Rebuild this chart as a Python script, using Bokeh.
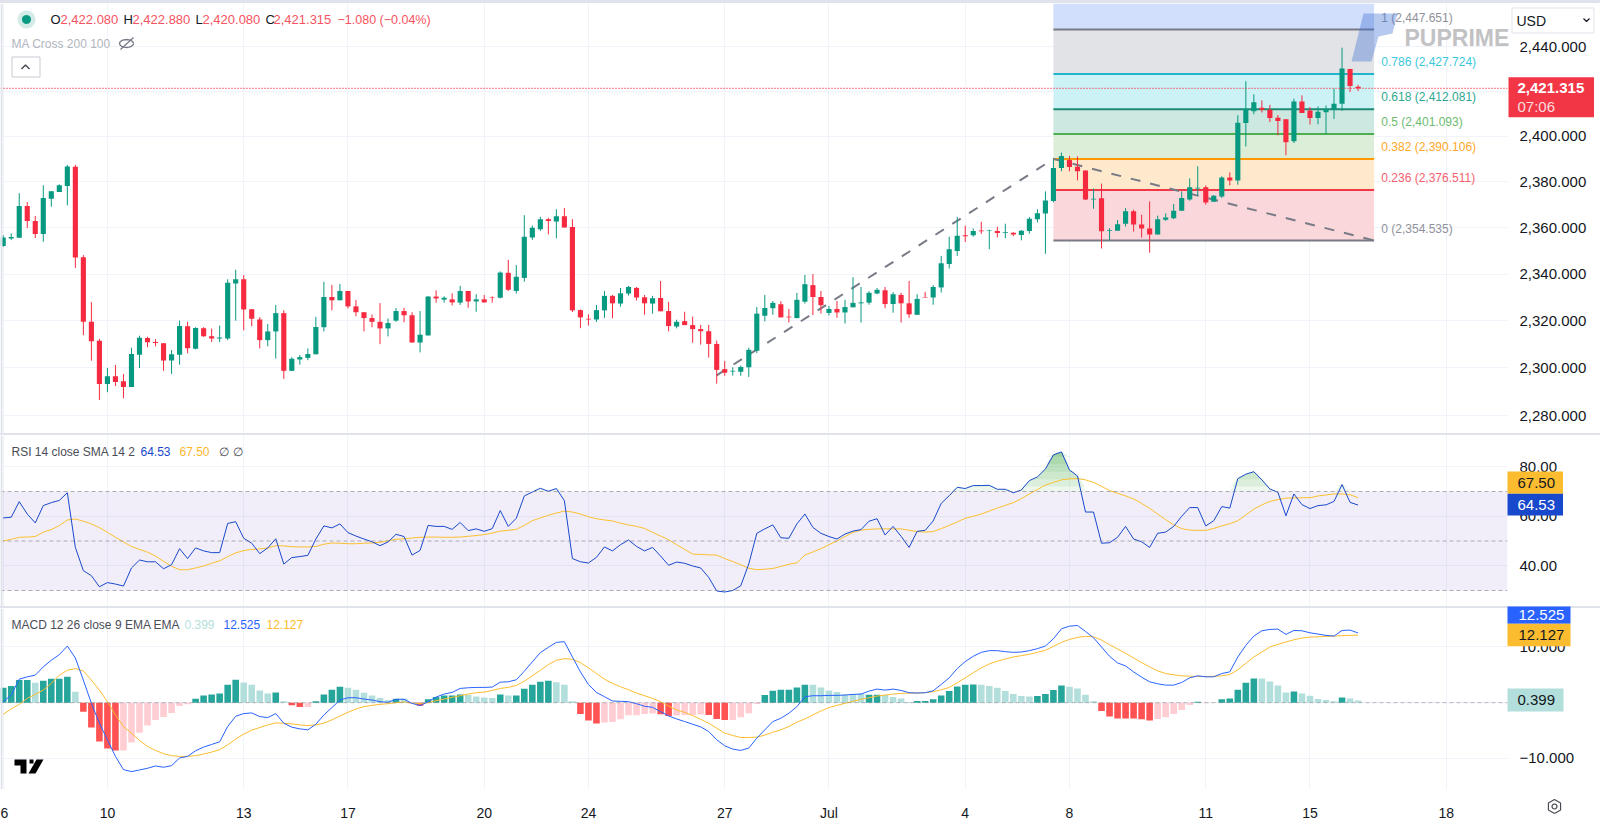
import math
import numpy as np
from bokeh.plotting import figure
from bokeh.layouts import column
from bokeh.models import (ColumnDataSource, FixedTicker, NumeralTickFormatter, Label, Span, Div,
                          BoxAnnotation, Range1d)
from bokeh.core.properties import value
from bokeh.embed import file_html
from bokeh.resources import INLINE

opens = [2352.2,2355.4,2355.7,2369.5,2363,2357.4,2372.7,2375.6,2378.2,2386.7,
2347.3,2319.6,2311.5,2293.2,2296.5,2294.4,2292,2305.6,2312.7,2311,
2310.5,2303.2,2305.6,2317.7,2308.2,2316.9,2313.5,2312.5,2312.5,2336,
2337.8,2325,2320.6,2311.8,2315.5,2323.3,2298.8,2303.6,2304.3,2305.8,
2317.3,2330.2,2328.8,2332.8,2326.2,2323.7,2321.2,2319.6,2316.8,2320.1,
2324.2,2322.4,2310.8,2313.8,2330.4,2329.1,2329.2,2327.8,2332.8,2328.3,
2329.2,2330.2,2329.9,2340.6,2332.8,2338.4,2355.8,2359.4,2363.8,2362.8,
2365.1,2360.4,2324.6,2320.9,2320.6,2324.5,2330.7,2327.4,2331.7,2334.1,
2330.1,2327.4,2329.8,2324.2,2317.6,2319.9,2318.2,2316.5,2315.6,2310.2,
2299.5,2298.5,2298.4,2300.3,2307.3,2322.2,2325.4,2327.1,2321.8,2321.2,
2328.2,2335.3,2330.2,2323.4,2325.1,2323.6,2325.8,2327.5,2327.8,2331.7,
2333.1,2327.2,2331.1,2327.5,2322.6,2330.2,2330,2334.3,2344.4,2350,
2356.8,2356.8,2358.9,2358.7,2358.7,2357.8,2357.9,2356.9,2358.7,2363.8,
2366.3,2371.7,2386.1,2389.6,2386.7,2385,2372.4,2372.9,2358.7,2358.8,
2361.8,2367.2,2361.5,2359.7,2357.1,2363.5,2364.2,2367.4,2372.3,2377.2,
2377.7,2371.4,2373.7,2382,2380.7,2406,2411.2,2412.7,2411.8,2408.3,
2407.6,2397.9,2415.5,2411.5,2408.2,2410.7,2411.8,2414.5,2430,2422.08]
closes = [2355.8,2356.1,2369.5,2363,2357.4,2373,2376,2378.6,2386.8,2347.2,
2319.6,2311.3,2293.2,2296.5,2294.1,2292,2305.9,2312.8,2310.9,2310.6,
2303.2,2305.8,2317.8,2308.4,2317,2313.5,2312.5,2312.9,2336.3,2337.8,
2324.9,2320.9,2311.8,2315.5,2323.3,2298.8,2303.9,2304.6,2305.9,2317.4,
2330.2,2328.8,2332.8,2326.2,2323.7,2321.2,2319.6,2316.8,2319.1,2324.2,
2322.4,2310.8,2314.1,2330.4,2329.6,2329.9,2327.9,2332.8,2328.3,2329.2,
2327.9,2330,2340.7,2333.3,2338.9,2356.2,2360.1,2363.8,2363,2365.1,
2360.2,2324.5,2321.5,2320.6,2324.6,2330.7,2327.5,2331.8,2334.5,2330,
2327.5,2329.7,2324.1,2317.8,2319.6,2318.2,2316.5,2315.6,2310.2,2299.2,
2298,2298.8,2300.4,2307.7,2323.1,2325.5,2327.7,2321.5,2321.5,2329,
2335.7,2330.2,2326.7,2325.1,2323.6,2325.9,2327.7,2327.9,2332,2333.3,
2327.2,2331.4,2327.5,2322.8,2329.4,2330,2334.5,2344.7,2350.8,2356.6,
2356.4,2358.7,2358.5,2358.9,2357.8,2358.1,2357.1,2358.8,2364,2366.4,
2371.9,2386.1,2391.4,2386.6,2384.7,2372.4,2372.7,2358.5,2359,2361.6,
2367.2,2361.5,2359.7,2357.1,2363.7,2364.5,2367.4,2373,2377.7,2377.5,
2371,2374,2382,2380.7,2406.1,2412.2,2415.1,2411.8,2408.2,2406.8,
2397.4,2415.5,2410.4,2408.2,2410.9,2412.2,2414.5,2430.2,2422.4,2421.315]
highs = [2356.8,2357.6,2375.1,2371.2,2365.2,2378.6,2376,2379,2387.5,2387.5,
2348.2,2328,2312.4,2300,2301.3,2297.4,2308.6,2313.7,2313.2,2312.2,
2310.5,2307.6,2320.1,2319.6,2317.3,2317.3,2316.7,2318,2337.8,2341.9,
2339.6,2325,2321.6,2318.7,2326.8,2324.5,2304.6,2305.5,2308.3,2321.7,
2336.7,2335.4,2335.8,2332.8,2328.9,2323.7,2322.7,2327.6,2321,2325.5,
2325.6,2323.7,2324.2,2330.6,2333.1,2330.5,2331.8,2335,2332.8,2331.4,
2331.1,2330.5,2341.2,2346.2,2343.9,2365.5,2361,2364.8,2364.4,2368.1,
2368.6,2363.8,2324.9,2322.8,2326.8,2332.8,2331.1,2334.1,2335,2334.5,
2331.1,2330.7,2337.1,2328.1,2320.5,2323.9,2321.8,2318.3,2318.3,2311.6,
2303,2300.3,2301,2308.6,2325.9,2331.1,2328.5,2328.4,2325.1,2332,
2339.7,2340,2332.8,2326.4,2328.5,2329,2338.7,2334.5,2332.7,2334.1,
2334.5,2332.3,2332,2337.1,2331.4,2332.4,2335.3,2347.9,2356.2,2364.7,
2361,2359.7,2362.7,2359.2,2360.5,2361.8,2358.1,2359.1,2364.7,2368.1,
2375.9,2389.9,2392.9,2391.4,2391.2,2385,2377.1,2379.3,2359.9,2363.4,
2368.6,2367.9,2365.7,2371.5,2365.3,2366.3,2370.4,2375.9,2381.6,2386.9,
2378.5,2374.3,2382.5,2384.2,2409.4,2424.5,2418.7,2416,2414,2409.5,
2407.6,2416.7,2418.2,2413,2413.3,2413.7,2421.2,2439.5,2430,2422.88]
lows = [2351.8,2354.7,2355.7,2359.9,2355.6,2354,2369.2,2375.6,2369.8,2342.7,
2313.9,2303.1,2286.5,2289.8,2292.4,2287.2,2292,2300,2308.8,2309.2,
2298.8,2297.5,2301.4,2306.2,2307.9,2313.2,2311,2311,2311.8,2320.1,
2316,2317.7,2308.3,2309.2,2304,2295.4,2298.8,2301.4,2303.3,2305.8,
2315.5,2324.5,2328.8,2325.3,2322,2315.5,2317.3,2310.1,2313.4,2319.6,
2319.4,2310.8,2306.6,2313.8,2327.8,2327.8,2326.6,2326.8,2325.6,2323.9,
2327.8,2327.8,2329.6,2332.8,2331.7,2336.8,2354.8,2358.7,2357.2,2355.5,
2360.2,2323.8,2316.9,2318,2319.5,2321.3,2321.1,2326.1,2330.8,2328.7,
2322.6,2323.1,2324.1,2315.5,2316.8,2318.2,2310.7,2309.9,2304.4,2293.4,
2296.7,2296.8,2296.7,2296.2,2306.3,2319.8,2322.6,2321.5,2319.3,2321.1,
2327.4,2322.5,2323.1,2322.3,2321.3,2318.9,2325.8,2319.3,2326.9,2331.4,
2325.4,2323.5,2319.3,2321.3,2322.5,2330,2326.9,2332.1,2342.4,2347.9,
2353.9,2356.2,2357.4,2350.8,2355.9,2355.5,2356.4,2354.6,2357.5,2362.4,
2348.8,2371.1,2384.7,2384.7,2380.7,2372.1,2368.3,2351.1,2354.6,2358.8,
2360.6,2358.4,2355.8,2349.3,2357.1,2363.1,2363.8,2367.4,2371.8,2373.9,
2370.1,2371.4,2373,2378.5,2378.8,2395.6,2409.8,2410.6,2406.4,2400.5,
2391.7,2397.1,2410.4,2405.3,2405.4,2401.1,2407.7,2411.3,2419.7,2420.08]

rsi = [59.3,59.6,65.9,60.9,57.3,64.3,65.5,66.4,69.5,47.4,
38,36,31.5,33.2,32.6,31.8,39.1,42.3,41.6,41.6,
38.8,40.4,46.9,42.9,47.2,46,45.3,45.3,57.1,57.8,
51.1,49.1,44.9,47.2,50.9,40.7,43.3,43.7,44.2,50.8,
56.1,55.3,56.9,53.4,52,50.8,49.7,48.1,49.6,52.7,
51.8,44.3,46.2,56.3,55.9,55.9,54.7,57.5,54.2,54.9,
53.9,55,62.3,55.9,59.2,68.2,69.8,71.3,70.1,71.2,
66.3,42.9,41.6,41.1,43.4,47.6,46,48.5,50.4,47.8,
46,47.4,43.9,40.2,41.5,41,39.9,39.1,35.3,29.8,
29.4,30,31.9,40.7,53.1,54.9,56.5,51.3,51.1,56.9,
60.9,55.5,53.1,51.8,50.8,52.8,54,54.6,58,59,
52.4,55.9,51.9,47.4,53.9,54.3,58.1,65.2,68.3,71.7,
71.2,72.4,72.4,72.5,70.9,70.9,69.5,70.6,74.4,75.9,
79.1,84.8,86,78.7,76.3,61.7,61.7,49.1,49.3,51.5,
55.9,50.8,49.7,47.4,53.1,53.6,55.9,60,63.5,63.5,
56.1,58.2,63.9,63.3,75.2,77,78,74.7,71,69.7,
60.2,69,64.7,63.1,64.3,64.6,66,72.8,65.6,64.53]
rsi_ma = [50,50.7,51.5,51.6,51.8,53.6,54.6,56.2,58.5,58.9,
58,56.9,55.4,53.5,51.5,49.6,47.8,46.6,45.5,43.9,
41.8,39.8,38.4,38.4,39.1,39.9,41,42,43.7,45.2,
46.1,46.6,46.8,47.2,48.1,48,47.7,47.6,47.6,47.8,
48.7,49.2,49.1,48.9,48.9,49.1,49.2,49.5,50.1,50.7,
50.9,51.2,51.5,51.6,51.6,51.5,51.5,51.6,51.9,52.2,
52.6,53.2,54,54.3,54.7,56.3,58.2,59.3,60.4,61.3,
62.1,61.7,60.9,59.8,59,58.5,58.1,57.2,56.5,55.9,
55.1,53.5,52,50.5,48.5,46.6,44.7,44.6,44.4,44.3,
42.9,41.7,40.4,39,38.4,38.6,38.9,39.7,40.6,41.2,
44.3,45.6,46.9,48.5,50,51.8,53.5,54.4,54.7,54.9,
54.9,54.9,54.9,54.3,53.8,53.6,53.8,55,56.3,57.7,
59.2,60,60.9,62.1,63.3,64.4,65.5,67.1,69,70.8,
72.6,73.7,74.7,75.1,75.2,74.7,73.7,72.1,70.4,69.3,
68.2,67,65.2,63.2,60.9,58.6,56.5,55,54.4,54.3,
54.3,55.1,56.1,57,58.2,60.5,62.9,64.6,66,66.7,
67.3,67.4,67.5,67.5,68.2,68.6,69,69,68.7,67.5]

macd = [0.18,1.37,4.22,4.64,4.94,6.43,7.62,8.63,10.17,8.03,
4.05,-0.12,-3.69,-6.66,-9.64,-12.02,-12.38,-12.08,-11.78,-11.36,
-11.6,-11.3,-9.94,-9.64,-8.63,-7.97,-7.5,-7.02,-4.28,-2.44,
-1.96,-1.84,-2.5,-2.68,-1.96,-3.69,-4.4,-4.7,-4.88,-3.87,
-2.2,-0.89,0.48,0.89,0.89,0.65,0.48,0.18,0.06,0.6,
0.6,-0.12,-0.54,0.18,1.01,1.55,1.84,2.56,2.68,2.74,
2.74,2.8,3.69,3.75,4.11,5.65,7.32,8.98,9.94,10.83,
10.95,8.21,5.53,3.27,1.84,1.07,0.3,0.24,0.18,-0.18,
-0.65,-0.83,-1.61,-2.38,-2.92,-3.39,-3.87,-4.34,-5.18,-6.66,
-7.74,-8.33,-8.57,-8.15,-6.37,-4.88,-3.39,-2.8,-1.9,-0.71,
1.07,1.25,1.25,1.31,1.31,1.37,1.49,1.55,2.08,2.44,
2.26,2.44,2.2,1.79,1.73,1.79,2.14,3.27,4.46,6.13,
7.38,8.33,9.04,9.34,9.34,9.16,9.04,9.1,9.34,9.7,
10.17,11.48,13.27,13.74,13.86,12.79,11.66,10,8.33,7.14,
6.6,5.53,4.58,3.75,3.39,3.15,3.15,3.63,4.46,4.82,
4.64,4.64,5.24,5.53,8.21,10.29,11.96,12.91,13.15,13.21,
12.26,12.97,12.91,12.55,12.32,12.08,11.96,12.97,13.03,12.525]
signal = [-2.08,-1.13,-0.3,0.77,1.49,2.26,3.45,4.94,5.83,6.13,
5.71,4.05,2.26,0.18,-2.2,-4.28,-5.47,-6.78,-7.85,-8.57,
-9.16,-9.52,-9.64,-9.64,-9.52,-9.22,-8.87,-8.45,-7.56,-6.54,
-5.65,-4.94,-4.46,-3.99,-3.63,-3.69,-3.81,-3.99,-4.11,-3.99,
-3.69,-3.09,-2.38,-1.73,-1.13,-0.71,-0.48,-0.3,-0.18,0,
0.12,-0.06,-0.18,0,0.36,0.65,0.95,1.25,1.55,1.79,
1.9,2.2,2.56,2.74,3.09,3.87,4.82,5.83,6.84,7.62,
7.91,7.79,7.2,6.25,5.24,4.22,3.45,2.86,2.32,1.73,
1.25,0.77,0.18,-0.6,-1.31,-1.73,-2.32,-2.98,-3.69,-4.58,
-5.47,-5.89,-6.25,-6.25,-6.19,-5.83,-5.3,-4.88,-4.28,-3.51,
-2.92,-2.2,-1.49,-0.89,-0.48,-0.12,0.24,0.6,0.89,1.19,
1.37,1.55,1.67,1.73,1.73,1.79,1.96,2.32,2.74,3.57,
4.46,5.36,6.25,6.96,7.44,7.85,8.21,8.45,8.69,9.04,
9.4,10.11,10.83,11.36,11.72,11.9,11.84,11.25,10.41,9.64,
8.87,8.03,7.2,6.43,5.71,5.24,5,4.82,4.76,4.7,
4.7,4.76,4.82,5.06,5.89,7.08,8.21,9.1,10,10.47,
10.89,11.3,11.6,11.78,11.84,11.9,11.96,12.03,12.08,12.127]
hist = [2.68,2.98,4.05,4.05,3.57,3.93,4.29,4.29,4.64,1.96,
-1.61,-4.46,-6.96,-8.21,-8.57,-8.57,-7.14,-5.41,-4.11,-3.09,
-2.56,-1.84,-0.6,-0.3,0.71,1.31,1.49,1.67,3.21,4.11,
3.63,3.21,2.2,1.67,1.84,0.24,-0.48,-0.77,-0.77,0.24,
1.49,2.32,2.86,2.68,2.32,1.79,1.31,0.83,0.48,0.71,
0.77,-0.18,-0.54,0.6,1.01,1.31,1.31,1.49,1.37,1.13,
0.95,0.83,1.49,1.31,1.31,2.5,3.21,3.75,3.93,3.69,
3.21,0.24,-2.02,-3.21,-3.75,-3.57,-3.45,-2.98,-2.26,-2.26,
-2.02,-1.96,-2.08,-2.38,-2.32,-2.2,-2.2,-2.14,-2.2,-2.92,
-3.09,-3.09,-2.62,-1.9,-0.24,1.37,2.14,2.32,2.32,2.74,
3.21,3.21,2.74,2.2,1.9,1.49,1.55,1.61,1.43,1.43,
1.37,1.01,0.77,0.12,0.3,0.3,0.6,1.31,2.08,2.92,
3.21,3.27,3.21,2.98,2.68,2.08,1.55,1.19,1.13,1.19,
1.55,2.26,3.1,2.86,2.56,1.43,0.24,-1.49,-2.5,-2.86,
-2.86,-2.86,-2.98,-3.21,-2.92,-2.62,-2.02,-1.31,-0.42,0.18,
-0.12,-0.06,0.6,0.77,2.32,3.57,4.35,4.35,3.81,3.1,
1.85,2.02,1.67,1.25,0.65,0.48,0.24,0.95,0.77,0.399]
hist_tone = ("DDDDLDDDDL" "DDDDDLLLLL" "LLLLDDDDDD" "LLLLDLDDLD" "DDDLLLLLLD"
             "LLDDDDDDLL" "LLDLDDDDDL" "LLDDDLLLLL" "LLDDLLLLDD" "DLLLLDDDDD"
             "DLLLLLLLDD" "LLLLDDDDDD" "DDLLLLLLLD" "DDDLLLLDDD" "DDDDLLLLLD"
             "LLDDDDDLLL" "LDLLLLLDLL")

fib_ratio = ["0", "0.236", "0.382", "0.5", "0.618", "0.786", "1"]
fib_price = [2354.535, 2376.511, 2390.106, 2401.093, 2412.081, 2427.724, 2447.651]
fib_line = ["#787b86", "#f23645", "#ff9800", "#4caf50", "#1f8a75", "#22b4cc", "#787b86"]
fib_text = ["#8f929c", "#f4616e", "#ffa726", "#6dbb70", "#2ea890", "#3cc8dc", "#8f929c"]
fib_fill = ["#fad7da", "#fee9cd", "#ddeed8", "#cde8e1", "#ccf2f5", "#e2e3e6", "#d1defc"]
trend_x = [89, 131, 171]
trend_y = [2296.9, 2390.1, 2354.535]
price_ticks = [2280, 2300, 2320, 2340, 2360, 2380, 2400, 2420, 2440]
rsi_ticks = [40, 60, 80]
macd_ticks = [-10, 0, 10]
day_ticks = [0, 13, 30, 43, 60, 73, 90, 103, 120, 133, 150, 163, 180]
day_names = ["6", "10", "13", "17", "20", "24", "27", "Jul", "4", "8", "11", "15", "18"]

UP, DOWN = "#089981", "#f5293f"
TAG_RED = "#f23645"
FONT = "Liberation Sans"
GRID = "#f0f3fa"
SEP = "#e0e3eb"
FRAME_W = 1507
STEP, X0 = 8.017, 2.7
xr = (-X0 / STEP, (FRAME_W - X0) / STEP)
P1_TOP, P1_H = 3, 430
P2_TOP, P2_H = 435, 171
P3_TOP, P3_H = 608, 182
xs = list(range(len(closes)))


def price_at(y):
    return 2280 * math.exp((415 - y) / 5440)


def make(height, y_range, ticks, bottom=0, **kw):
    p = figure(width=1600, height=height, x_range=xr, y_range=y_range, output_backend="svg",
               toolbar_location=None, y_axis_location="right", min_border_left=0,
               min_border_right=1600 - FRAME_W, min_border_top=0, min_border_bottom=bottom,
               outline_line_color=None, **kw)
    p.yaxis.ticker = FixedTicker(ticks=ticks)
    p.yaxis.axis_line_color = None
    p.yaxis.major_tick_line_color = None
    p.yaxis.minor_tick_line_color = None
    p.yaxis.major_label_text_font = FONT
    p.yaxis.major_label_text_font_size = "15px"
    p.yaxis.major_label_text_color = "#131722"
    p.yaxis.major_label_standoff = 6
    p.xaxis.ticker = FixedTicker(ticks=day_ticks)
    p.xgrid.ticker = FixedTicker(ticks=day_ticks)
    p.xgrid.grid_line_color = GRID
    p.ygrid.grid_line_color = GRID
    p.add_layout(BoxAnnotation(right=xr[0] + 2 / STEP, fill_color=SEP, fill_alpha=1, line_color=None,
                               level="overlay"))
    return p


# ---------- transparent sheet over the whole page, in page pixels, for header, legends and tags
ov = figure(width=1600, height=823, x_range=Range1d(0, 1600), y_range=Range1d(823, 0), output_backend="svg",
            toolbar_location=None, x_axis_location=None, y_axis_location=None, min_border=0,
            outline_line_color=None, background_fill_color=None, border_fill_color=None,
            margin=(-823, 0, 0, 0), frame_align=False)
ov.grid.visible = False


def text(x, y, s, color="#131722", size=13, bold=False, anchor="center_left", **kw):
    lab = Label(x=x, y=y, text=s, text_color=color, text_font=FONT, text_font_size=f"{size}px",
                text_font_style="bold" if bold else "normal", anchor=anchor, **kw)
    ov.add_layout(lab)
    return lab


def poly(pts, color, alpha=1.0):
    ov.patch([a for a, _ in pts], [b for _, b in pts], fill_color=color, fill_alpha=alpha, line_color=None)


def outline(pts, color, width=1.0):
    ov.line([a for a, _ in pts], [b for _, b in pts], line_color=color, line_width=width)


def tag(x0, x1, y0, y1, color):
    ov.quad(left=x0, right=x1, top=y0, bottom=y1, fill_color=color, line_color=None)


# ---------- price pane
p1 = make(P1_H, (price_at(P1_TOP + P1_H), price_at(P1_TOP)), price_ticks, y_axis_type="log")
p1.xaxis.visible = False
p1.yaxis.formatter = NumeralTickFormatter(format="0,0.000")
p1.yaxis.major_label_overrides = {2420: ""}

tops = fib_price[1:] + [price_at(P1_TOP)]
p1.quad(left=trend_x[1], right=trend_x[2], bottom=fib_price, top=tops, fill_color=fib_fill, line_color=None)
p1.segment(x0=[trend_x[1]] * 7, x1=[trend_x[2]] * 7, y0=fib_price, y1=fib_price, line_color=fib_line, line_width=2)
p1.line(trend_x, trend_y, line_color="#787b86", line_width=2, line_dash="10 10")
p1.add_layout(Span(location=closes[-1], dimension="width", line_color=DOWN, line_width=1.4, line_dash="1 2"))

cols = [UP if c >= o else DOWN for o, c in zip(opens, closes)]
src = ColumnDataSource(dict(x=xs, o=opens, c=closes, h=highs, l=lows, col=cols))
p1.segment("x", "h", "x", "l", source=src, line_color="col", line_width=1)
p1.vbar("x", 0.64, "o", "c", source=src, fill_color="col", line_color=None)

fib_names = [f"{r} ({v:,.3f})" for r, v in zip(fib_ratio, fib_price)]
p1.text(x=[171.9] * 7, y=fib_price, text=fib_names, text_color=fib_text, text_font=value(FONT),
        text_font_size="12px", text_baseline="middle", y_offset=-12)

# logo and watermark
poly([(1363, 13), (1397, 13), (1392, 33), (1378, 36), (1371, 61), (1351, 61)], "#3f72d6", 0.38)
text(1404, 37, "PUPRIME", color="#c2c2c4", size=23, bold=True)

# header
poly([(26 + 9 * math.cos(t / 12 * math.pi), 19 + 9 * math.sin(t / 12 * math.pi)) for t in range(24)], "#d3ece7")
poly([(26 + 4.5 * math.cos(t / 12 * math.pi), 19 + 4.5 * math.sin(t / 12 * math.pi)) for t in range(24)], UP)
RED = "#f7525f"
for x, s, c, sz in [(50, "O", "#131722", 13), (60, "2,422.080", RED, 13), (123, "H", "#131722", 13),
                    (132, "2,422.880", RED, 13), (195, "L", "#131722", 13), (202, "2,420.080", RED, 13),
                    (265, "C", "#131722", 13), (273, "2,421.315", RED, 13),
                    (337, "\u22121.080 (\u22120.04%)", RED, 12.5)]:
    text(x, 19, s, color=c, size=sz)
text(11, 43, "MA Cross 200 100", color="#b2b5be", size=12)
outline([(126 + 7 * math.cos(t / 8 * math.pi), 43 + 4 * math.sin(t / 8 * math.pi)) for t in range(17)], "#787b86", 1.3)
outline([(120, 49), (133, 37)], "#787b86", 1.3)
outline([(11.5, 56.5), (39.5, 56.5), (39.5, 76.5), (11.5, 76.5), (11.5, 56.5)], "#c8cad0")
outline([(21, 68.5), (25, 64.5), (29, 68.5)], "#4a4d56", 1.5)

# price tag and currency box
tag(1508, 1593.5, 76.7, 116.7, TAG_RED)
text(1517, 87.5, "2,421.315", color="#ffffff", size=15, bold=True)
text(1517, 106, "07:06", color="#fbdcdf", size=15)
tag(1511.5, 1593.5, 7.5, 32.5, "#ffffff")
outline([(1511.5, 7.5), (1593.5, 7.5), (1593.5, 32.5), (1511.5, 32.5), (1511.5, 7.5)], "#e0e3eb")
text(1516, 20, "USD", color="#131722", size=14)
outline([(1583, 18), (1586, 21), (1589, 18)], "#131722", 1.2)


# ---------- RSI pane
def rsi_at(y):
    return 70 - (y - 491) / 2.475


p2 = make(P2_H, (rsi_at(P2_TOP + P2_H), rsi_at(P2_TOP)), rsi_ticks)
p2.xaxis.visible = False
p2.yaxis.formatter = NumeralTickFormatter(format="0.00")
p2.varea(x=[xr[0], xr[1]], y1=[30, 30], y2=[70, 70], fill_color="#7e57c2", fill_alpha=0.1)
rs = np.array(rsi)
for lev, alpha in [(70, 0.10), (72, 0.10), (75, 0.10), (78, 0.12), (81, 0.14), (84, 0.16)]:
    p2.varea(x=xs, y1=lev, y2=np.maximum(rs, lev), fill_color="#4caf50", fill_alpha=alpha)
for lev in [70, 50, 30]:
    p2.add_layout(Span(location=lev, dimension="width", line_color="#787b86", line_alpha=0.6, line_width=1,
                       line_dash="4 3"))
p2.line(xs, rsi_ma, line_color="#fbc02d", line_width=1)
p2.line(xs, rsi, line_color="#1848cc", line_width=1)
text(11, 451, "RSI 14 close SMA 14 2", color="#4a4d56", size=12)
for x, s, c in [(140, "64.53", "#1848cc"), (179, "67.50", "#fbb72a"), (218, "\u2205", "#4a4d56"), (232, "\u2205", "#4a4d56")]:
    text(x, 451, s, color=c, size=12)
tag(1507, 1562.5, 471, 493.3, "#fbbc2f")
text(1517, 482.5, "67.50", color="#131722", size=15)
tag(1507, 1562.5, 493.3, 515, "#1848cc")
text(1517, 504.5, "64.53", color="#ffffff", size=15)


# ---------- MACD pane
def macd_at(y):
    return (702.7 - y) / 5.6


p3 = make(P3_H + 33, (macd_at(P3_TOP + P3_H), macd_at(P3_TOP)), macd_ticks, bottom=33)
p3.yaxis.formatter = NumeralTickFormatter(format="0.000")
p3.yaxis.major_label_overrides = {-10: "\u221210.000"}
p3.xaxis.major_label_overrides = dict(zip(day_ticks, day_names))
p3.xaxis.axis_line_color = None
p3.xaxis.major_tick_line_color = None
p3.xaxis.minor_tick_line_color = None
p3.xaxis.major_label_text_font = FONT
p3.xaxis.major_label_text_font_size = "14px"
p3.xaxis.major_label_text_color = "#131722"
p3.xaxis.major_label_standoff = 9
p3.add_layout(Span(location=0, dimension="width", line_color="#787b86", line_alpha=0.5, line_width=1, line_dash="4 3"))
hcols = [("#26a69a" if t == "D" else "#b2dfdb") if v >= 0 else ("#ff5252" if t == "D" else "#ffcdd2")
         for v, t in zip(hist, hist_tone)]
p3.vbar(xs, 0.82, 0, hist, fill_color=hcols, line_color=None)
p3.line(xs, signal, line_color="#fbbc2f", line_width=1)
p3.line(xs, macd, line_color="#2962ff", line_width=1)
text(11, 624, "MACD 12 26 close 9 EMA EMA", color="#4a4d56", size=12)
for x, s, c in [(184, "0.399", "#b2dfdb"), (223, "12.525", "#2962ff"), (266, "12.127", "#fbbc2f")]:
    text(x, 624, s, color=c, size=12)
tag(1507, 1570, 606, 623.3, "#2962ff")
text(1518, 614, "12.525", color="#ffffff", size=15)
tag(1507, 1570, 623.3, 645.7, "#fbbc2f")
text(1518, 634.5, "12.127", color="#131722", size=15)
tag(1507, 1563, 688, 711, "#b2dfdb")
text(1517, 699.5, "0.399", color="#131722", size=15)
# TradingView mark
poly([(14, 759), (26, 759), (26, 773), (20, 773), (20, 765), (14, 765)], "#000000")
poly([(36, 759), (43, 759), (35, 773), (28, 773)], "#000000")
poly([(29, 759), (33, 759), (33, 763), (29, 763)], "#000000")
# settings mark
outline([(1554 + 7 * math.sin(t / 3 * math.pi), 806 + 7 * math.cos(t / 3 * math.pi)) for t in range(7)], "#4a4d56", 1.2)
outline([(1554 + 2.5 * math.sin(t / 6 * math.pi), 806 + 2.5 * math.cos(t / 6 * math.pi)) for t in range(13)], "#4a4d56", 1.2)


def sep(h):
    return Div(width=1600, height=h, margin=0, styles={"background-color": SEP})


page = column(sep(3), p1, sep(2), p2, sep(2), p3, ov, spacing=0, margin=0)
open("out.html", "w").write(file_html(page, INLINE))
